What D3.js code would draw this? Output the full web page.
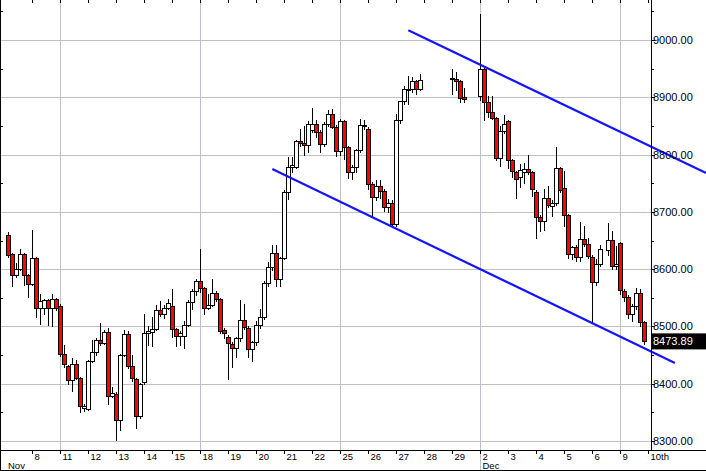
<!DOCTYPE html>
<html><head><meta charset="utf-8">
<script src="https://cdn.jsdelivr.net/npm/d3@7"></script>
<style>html,body{margin:0;padding:0;background:#fff;}svg{display:block;}</style>
</head><body>
<script>
// ---- data: one entry per hourly bar (null = no bar) ----
const opens = [
8660,8626,8589,8600,8626,8589,8574,8619,8532,8533,8546,8533,8548,8536,8452,8431,8407,8435,8410,8358,
8356,8440,8456,8477,8471,8490,8379,8382,8336,8450,8486,8431,8408,8343,8403,8489,8490,8495,8528,8521,
8533,8536,8496,8483,8484,8502,8542,8561,8579,8567,8533,8538,8558,8548,8493,8482,8470,8463,8479,8512,
8498,8460,8472,8503,8517,8576,8603,8629,8582,8620,8735,8779,8779,8823,8820,8817,8843,8853,8840,8819,
8853,8871,8849,8806,8858,8813,8769,8778,8808,8852,8844,8749,8726,8746,8736,8709,8716,8679,8860,8893,
8914,8914,8928,8914,null,null,null,null,null,null,null,8934,8932,8928,8900,null,null,null,8902,8950,
8892,8875,8864,8794,8841,8858,8791,8770,8760,8770,8774,8769,8735,8691,8684,8724,8710,8716,8776,8741,
8695,8626,8639,8622,8653,8644,8622,8577,8609,null,8633,8651,8606,8645,8562,8552,8522,8536,8559,8507];
const highs = [
8665,8628,8610,8635,8628,8591,8668,8622,8557,8548,8548,8557,8550,8540,8467,8433,8445,8442,8412,8364,
8442,8477,8480,8506,8493,8497,8395,8385,8452,8493,8492,8450,8410,8401,8521,8500,8517,8538,8545,8537,
8548,8565,8498,8492,8510,8546,8565,8582,8635,8569,8556,8582,8562,8550,8497,8485,8472,8482,8546,8540,
8500,8475,8510,8531,8580,8612,8643,8643,8622,8738,8796,8795,8826,8845,8850,8858,8881,8860,8843,8856,
8877,8880,8852,8862,8860,8815,8782,8810,8862,8860,8848,8752,8755,8755,8740,8722,8720,8871,8893,8920,
8937,8935,8930,8941,null,null,null,null,null,null,null,8950,8945,8930,8917,null,null,null,9045,8952,
8902,8902,8866,8850,8869,8860,8793,8772,8784,8786,8800,8772,8738,8694,8740,8746,8720,8813,8778,8772,
8697,8641,8642,8683,8675,8655,8625,8617,8642,null,8680,8667,8640,8648,8565,8554,8540,8567,8565,8510];
const lows = [
8622,8570,8587,8598,8572,8551,8572,8516,8504,8521,8503,8500,8528,8448,8430,8400,8387,8408,8351,8353,
8354,8438,8450,8468,8469,8364,8376,8301,8319,8448,8428,8405,8322,8340,8400,8467,8466,8493,8519,8515,
8530,8482,8465,8467,8463,8500,8530,8555,8560,8521,8530,8535,8545,8488,8480,8408,8430,8446,8475,8495,
8446,8440,8468,8498,8513,8570,8598,8570,8570,8617,8723,8770,8776,8815,8800,8805,8840,8830,8804,8815,
8850,8846,8797,8800,8792,8759,8757,8770,8805,8845,8740,8692,8720,8725,8702,8700,8676,8676,8855,8888,
8888,8910,8906,8912,null,null,null,null,null,null,null,8905,8913,8892,8892,null,null,null,8895,8860,
8866,8862,8790,8780,8838,8777,8760,8724,8744,8750,8766,8728,8655,8667,8668,8708,8693,8712,8735,8676,
8620,8617,8614,8614,8640,8620,8507,8572,8606,null,8625,8600,8600,8556,8545,8515,8510,8530,8500,8470];
const closes = [
8624,8589,8600,8626,8589,8574,8619,8532,8545,8546,8533,8548,8532,8452,8434,8407,8435,8410,8361,8361,
8440,8456,8477,8471,8490,8379,8383,8337,8450,8486,8431,8410,8343,8399,8489,8492,8495,8528,8521,8533,
8541,8496,8483,8488,8502,8542,8561,8579,8567,8533,8538,8558,8548,8492,8489,8471,8463,8479,8511,8499,
8460,8472,8503,8517,8576,8603,8629,8582,8620,8735,8779,8781,8823,8820,8817,8853,8853,8840,8819,8853,
8871,8849,8806,8858,8813,8769,8778,8808,8852,8850,8749,8726,8746,8736,8709,8716,8679,8860,8893,8914,
8915,8928,8914,8930,null,null,null,null,null,null,null,8932,8928,8899,8897,null,null,null,8950,8892,
8875,8864,8794,8841,8854,8791,8771,8758,8773,8774,8769,8740,8691,8684,8724,8712,8716,8776,8738,8695,
8626,8639,8622,8653,8644,8623,8577,8609,8635,null,8651,8606,8609,8563,8552,8522,8536,8559,8507,8474];

const dayLabels   = ["8","11","12","13","14","15","18","19","20","21","22","25","26","27","28","29","2","3","4","5","6","9","10th"];
const dayStartBar = [6,13,20,27,34,41,48,55,62,69,76,83,90,97,104,111,118,125,132,139,146,153,160];
const weekStartBar = [13,48,83,118,153];
const monthLabels = ["Nov","Dec"];
const monthStartBar = [0,118];
const priceTicks = [8300,8400,8500,8600,8700,8800,8900,9000];
const minorTicks = [8350,8450,8550,8650,8750,8850,8950,9050];
const lastPrice = 8473.89;
// trend lines: [bar index, price]
const upperTrend = [[99.95,9017],[174.4,8768]];
const lowerTrend = [[65.95,8775],[166.6,8436]];

// ---- drawing ----
const W = 706, H = 471;
const plotR = 651, plotB = 450;
const svg = d3.select("body").append("svg").attr("width",W).attr("height",H)
  .style("font-family","'Liberation Sans', Arial, sans-serif");
svg.append("rect").attr("width",W).attr("height",H).attr("fill","#fff");

const x = d3.scaleLinear().domain([0,159]).range([8.5,644.5]);
const y = d3.scaleLinear().domain([8300,9000]).range([441,40]);
const py = v => Math.round(y(v)) + 0.5;

const grid = "#c0c0c8";
// horizontal grid
svg.append("g").selectAll("line").data(priceTicks).join("line")
  .attr("x1",0).attr("x2",plotR).attr("y1",py).attr("y2",py)
  .attr("stroke",grid).attr("stroke-width",1);
// vertical weekly grid
svg.append("g").selectAll("line").data(weekStartBar).join("line")
  .attr("x1",d=>x(d)).attr("x2",d=>x(d)).attr("y1",0).attr("y2",d=>d===118?H:plotB)
  .attr("stroke",grid).attr("stroke-width",1);

// candles
const bars = d3.range(opens.length).filter(i => opens[i] !== null);
const cg = svg.append("g");
cg.selectAll("line").data(bars).join("line")
  .attr("x1",i=>x(i)).attr("x2",i=>x(i))
  .attr("y1",i=>Math.round(y(highs[i]))).attr("y2",i=>Math.round(y(lows[i]))+1)
  .attr("stroke","#000").attr("stroke-width",1);
cg.selectAll("rect").data(bars).join("rect")
  .attr("x",i=>x(i)-2).attr("width",4)
  .attr("y",i=>py(Math.max(opens[i],closes[i])))
  .attr("height",i=>Math.max(1, py(Math.min(opens[i],closes[i])) - py(Math.max(opens[i],closes[i]))))
  .attr("fill",i=>closes[i] < opens[i] ? "#ff0000" : "#ffffff")
  .attr("stroke","#000").attr("stroke-width",1);

// trend lines
const tl = d3.line().x(d=>x(d[0])).y(d=>y(d[1]));
[upperTrend, lowerTrend].forEach(t => {
  svg.append("path").attr("d",tl(t)).attr("fill","none")
    .attr("stroke","#1414ff").attr("stroke-width",2.2);
});

// axes frame
svg.append("line").attr("x1",plotR+0.5).attr("x2",plotR+0.5).attr("y1",0).attr("y2",plotB)
  .attr("stroke","#000");
svg.append("line").attr("x1",0).attr("x2",W).attr("y1",plotB+0.5).attr("y2",plotB+0.5)
  .attr("stroke","#000");
svg.append("line").attr("x1",0.5).attr("x2",0.5).attr("y1",0).attr("y2",H)
  .attr("stroke","#000");
svg.append("line").attr("x1",0).attr("x2",W).attr("y1",H-0.5).attr("y2",H-0.5)
  .attr("stroke","#000");

// right axis ticks + labels
const ra = svg.append("g");
ra.selectAll("line.maj").data(priceTicks).join("line").attr("class","maj")
  .attr("x1",plotR).attr("x2",plotR+4).attr("y1",py).attr("y2",py).attr("stroke","#000");
ra.selectAll("line.min").data(minorTicks).join("line").attr("class","min")
  .attr("x1",plotR).attr("x2",plotR+3).attr("y1",py).attr("y2",py).attr("stroke","#000");
ra.selectAll("text").data(priceTicks).join("text")
  .attr("x",plotR+2).attr("y",d=>y(d)+4).attr("font-size","11px").attr("fill","#000")
  .text(d=>d3.format(".2f")(d));
// left minor ticks
svg.append("g").selectAll("line").data(minorTicks).join("line")
  .attr("x1",0).attr("x2",3).attr("y1",py).attr("y2",py).attr("stroke","#000");

// last price box
svg.append("rect").attr("x",plotR+1).attr("y",y(lastPrice)-8).attr("width",W-plotR-1).attr("height",16)
  .attr("fill","#000");
svg.append("text").attr("x",plotR+2).attr("y",y(lastPrice)+4).attr("font-size","11px")
  .attr("fill","#fff").text(d3.format(".2f")(lastPrice));

// bottom axis ticks + day labels
const ba = svg.append("g");
ba.selectAll("line").data(dayStartBar).join("line")
  .attr("x1",d=>x(d)).attr("x2",d=>x(d)).attr("y1",plotB).attr("y2",plotB+4).attr("stroke","#000");
ba.selectAll("text").data(dayStartBar).join("text")
  .attr("x",d=>x(d)+2).attr("y",plotB+9.5).attr("font-size","9.5px").attr("fill","#000")
  .text((d,k)=>dayLabels[k]);
// top ticks
svg.append("g").selectAll("line").data(dayStartBar).join("line")
  .attr("x1",d=>x(d)).attr("x2",d=>x(d)).attr("y1",0).attr("y2",3).attr("stroke","#000");
// months
svg.append("g").selectAll("text").data(monthStartBar).join("text")
  .attr("x",d=>d===0?8:x(d)+2).attr("y",plotB+19).attr("font-size","9.5px").attr("fill","#000")
  .text((d,k)=>monthLabels[k]);
</script>
</body></html>
